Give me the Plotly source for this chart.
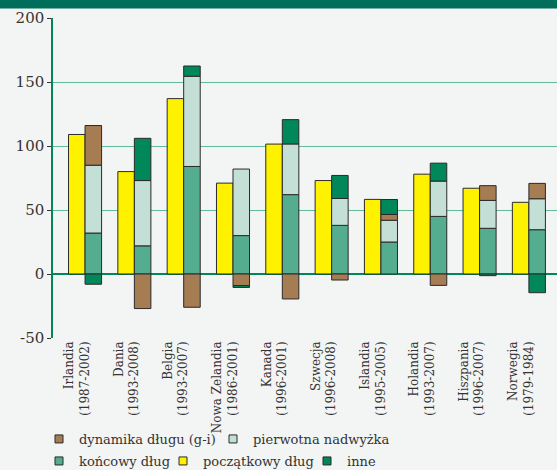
import plotly.graph_objects as go

# data (% of GDP)
countries = ["Irlandia<br>(1987-2002)", "Dania<br>(1993-2008)", "Belgia<br>(1993-2007)",
             "Nowa Zelandia<br>(1986-2001)", "Kanada<br>(1996-2001)", "Szwecja<br>(1996-2008)",
             "Islandia<br>(1995-2005)", "Holandia<br>(1993-2007)", "Hiszpania<br>(1996-2007)",
             "Norwegia<br>(1979-1984)"]
poczatkowy = [109, 80, 137, 71, 101.5, 73, 58.3, 78, 67, 56]
koncowy = [32, 22, 84, 30, 62, 38, 25, 45, 35.7, 34.6]
pierwotna = [53, 51, 70.5, 52, 39.6, 21, 17, 27.6, 21.8, 24.2]
dynamika = [31, -27, -26, -9, -19.5, -4.7, 4.5, -8.9, 11.5, 12]
inne = [-8, 33, 8, -1.5, 19, 18, 11.7, 14, -1.3, -14.6]

y_ticks = [-50, 0, 50, 100, 150, 200]
y_labels = ["-50", "0", "50", "100", "150", "200"]

FONT = "DejaVu Serif"
EDGE = "#2a2a2a"
OUTLINE = dict(color=EDGE, width=1)
C_DYN, C_PIER, C_POCZ, C_KON, C_INNE = "#A67C52", "#C4DFD5", "#FFF200", "#55AD90", "#00875A"

W, H = 557, 470

bw = 0.335
pos = list(range(len(countries)))
x_yellow = [p - bw / 2 for p in pos]
x_stack = [p + bw / 2 for p in pos]

fig = go.Figure()

# bars (stack order bottom-up: końcowy, pierwotna, dynamika, inne)
fig.add_trace(go.Bar(x=x_yellow, y=poczatkowy, width=bw, marker=dict(color=C_POCZ, line=OUTLINE), showlegend=False))
fig.add_trace(go.Bar(x=x_stack, y=koncowy, width=bw, marker=dict(color=C_KON, line=OUTLINE), showlegend=False))
fig.add_trace(go.Bar(x=x_stack, y=pierwotna, width=bw, marker=dict(color=C_PIER, line=OUTLINE), showlegend=False))
fig.add_trace(go.Bar(x=x_stack, y=dynamika, width=bw, marker=dict(color=C_DYN, line=OUTLINE), showlegend=False))
fig.add_trace(go.Bar(x=x_stack, y=inne, width=bw, marker=dict(color=C_INNE, line=OUTLINE), showlegend=False))


# legend entries with small square symbols, in two rows
def legend_entry(name, color, legend, width):
    fig.add_trace(go.Scatter(x=[None], y=[None], mode="markers", name=name, legend=legend,
                             legendwidth=width,
                             marker=dict(symbol="square", size=8, color=color, line=dict(color=EDGE, width=1))))


legend_entry("dynamika długu (g-i)", C_DYN, "legend", 129)
legend_entry("pierwotna nadwyżka", C_PIER, "legend", 140)
legend_entry("końcowy dług", C_KON, "legend2", 79)
legend_entry("początkowy dług", C_POCZ, "legend2", 99)
legend_entry("inne", C_INNE, "legend2", 40)

leg = dict(orientation="h", xref="container", yref="container", xanchor="left", yanchor="middle",
           font=dict(size=13, family=FONT, color="#333333"), traceorder="normal",
           itemwidth=30, bgcolor="rgba(0,0,0,0)", borderwidth=0)

fig.update_layout(
    width=W, height=H,
    barmode="relative",
    paper_bgcolor="#F3F5F4", plot_bgcolor="#F3F5F4",
    margin=dict(l=53, r=0, t=18, b=132, autoexpand=False),
    font=dict(family=FONT, color="#333333", size=13),
    legend=dict(leg, x=39 / W, y=1 - 439 / H),
    legend2=dict(leg, x=39 / W, y=1 - 461 / H),
    shapes=[dict(type="rect", xref="paper", yref="paper", x0=-0.2, x1=1.1,
                 y0=1.03, y1=1.2, fillcolor="#006E5A", line=dict(width=0), layer="above")],
)

fig.update_xaxes(
    range=[-0.65, 9.57], tickvals=[p - 0.16 for p in pos], ticktext=countries,
    tickangle=-90, tickfont=dict(size=12, family=FONT, color="#333333"), showgrid=False,
    ticks="", showline=False, zeroline=False, automargin=False,
)
fig.update_yaxes(
    range=[-50, 200], tickvals=y_ticks, ticktext=y_labels,
    tickfont=dict(size=15, family=FONT, color="#333333"), ticks="outside", ticklen=4, tickcolor="#333333",
    showgrid=True, gridcolor="#63BA9A", gridwidth=1,
    zeroline=True, zerolinecolor="#00875A", zerolinewidth=1.5,
    showline=True, linecolor="#00875A", linewidth=1.5, automargin=False,
)

# drop the browser's default 8px page margin so the figure fills the window
fig.write_html("out.html", config={"displayModeBar": False},
               post_script="document.body.style.margin='0';")
